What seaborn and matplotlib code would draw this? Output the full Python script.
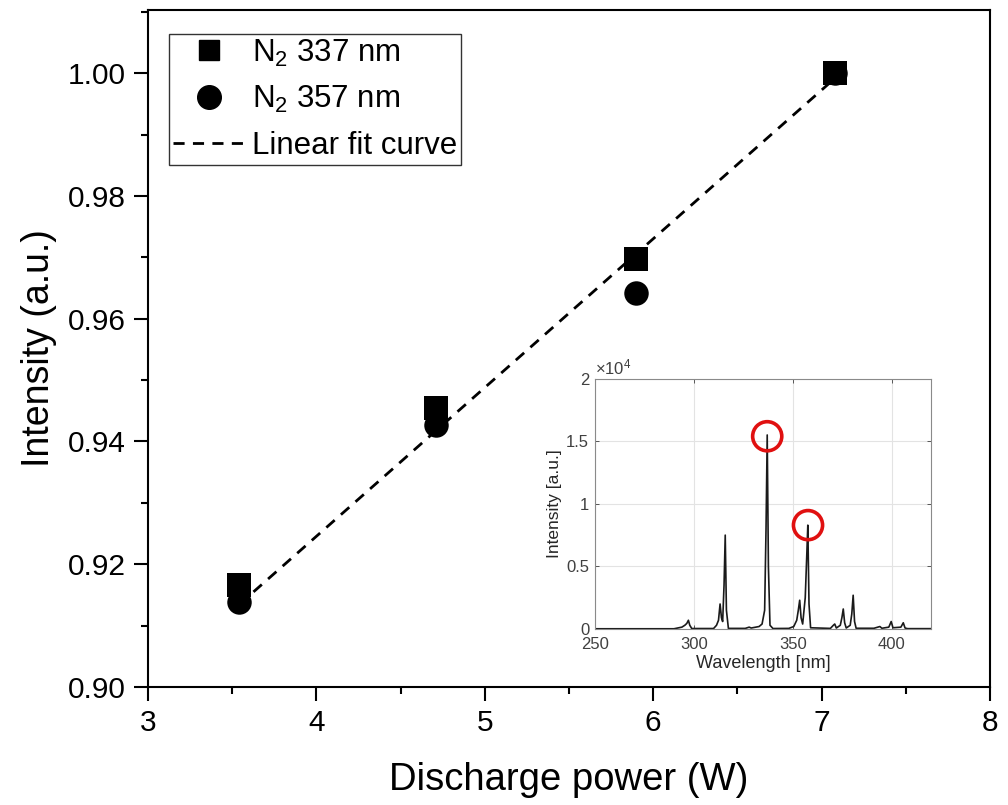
import numpy as np
import pandas as pd
import matplotlib
matplotlib.use("Agg")
import matplotlib.pyplot as plt
import seaborn as sns
from matplotlib.lines import Line2D
from matplotlib.ticker import MultipleLocator, FuncFormatter


# main panel: normalised N2 emission vs discharge power
power = [3.54, 4.71, 5.90, 7.08]
n2_337 = [0.9166, 0.9454, 0.9697, 1.0000]
n2_357 = [0.9138, 0.9427, 0.9642, 1.0000]
fit_power = [3.54, 7.08]
fit_intensity = [0.9134, 0.9992]

# inset: emission spectrum
wavelength = [250, 290, 294, 295.5, 296.5, 297.3, 298, 299, 310, 311.5, 312.5, 313.3, 314,
              314.6, 315.3, 315.9, 316.5, 317.5, 326, 328, 329, 333, 334.5, 335.8, 336.5,
              337.1, 337.7, 338.5, 340, 348, 350.5, 352, 352.8, 353.5, 354.2, 355, 356.3,
              357.1, 357.6, 358.2, 359, 369, 370.5, 371.2, 372, 374, 374.8, 375.5, 376.2,
              377, 379, 379.8, 380.5, 381.2, 382, 391, 394, 395, 398.5, 399.7, 400.6,
              404.6, 405.8, 406.7, 408, 420]
counts = [20, 20, 150, 300, 450, 700, 300, 40, 40, 300, 700, 2000, 900,
          600, 3500, 7500, 1500, 50, 50, 150, 80, 200, 400, 1500, 8000,
          15500, 5000, 300, 40, 50, 200, 700, 1500, 2300, 900, 400, 2500,
          6000, 8300, 2000, 100, 50, 300, 400, 80, 300, 900, 1600, 500,
          80, 300, 1200, 2700, 600, 60, 60, 200, 60, 150, 600, 100,
          150, 500, 80, 30, 30]
marked_wl = [337.1, 357.7]
marked_counts = [15400, 8300]

sns.set_theme(style="ticks")
plt.rcParams["font.family"] = ["Liberation Sans", "DejaVu Sans"]
plt.rcParams["mathtext.default"] = "regular"
plt.rcParams["text.color"] = "black"
plt.rcParams["axes.labelcolor"] = "black"

df = pd.DataFrame({"power": power, "n2_337": n2_337, "n2_357": n2_357})
fit_df = pd.DataFrame({"power": fit_power, "intensity": fit_intensity})
spec = pd.DataFrame({"wavelength": wavelength, "counts": counts})

fig = plt.figure(figsize=(10.08, 8.05), dpi=100)
ax = fig.add_axes([0.1468, 0.1466, 0.8354, 0.841])

sns.lineplot(data=fit_df, x="power", y="intensity", ax=ax, color="black",
             linestyle=(0, (4, 3)), linewidth=2, zorder=2)
sns.scatterplot(data=df, x="power", y="n2_337", ax=ax, marker="s", s=300,
                color="black", edgecolor="black", linewidth=0, zorder=3)
sns.scatterplot(data=df, x="power", y="n2_357", ax=ax, marker="o", s=310,
                color="black", edgecolor="black", linewidth=0, zorder=4)

ax.set_xlim(3, 8)
ax.set_ylim(0.90, 1.0103)
ax.set_yticks(np.arange(0.90, 1.001, 0.02))
ax.yaxis.set_major_formatter(FuncFormatter(lambda v, p: f"{v:.2f}"))
ax.xaxis.set_minor_locator(MultipleLocator(0.5))
ax.yaxis.set_minor_locator(MultipleLocator(0.01))
ax.tick_params(which="major", direction="out", length=10, width=1.5,
               labelsize=21.5, top=False, right=False, pad=6, colors="black")
ax.tick_params(which="minor", direction="out", length=5, width=1.5,
               top=False, right=False, colors="black")
for sp in ax.spines.values():
    sp.set_visible(True)
    sp.set_linewidth(1.5)
    sp.set_color("black")
ax.set_xlabel("Discharge power (W)", fontsize=27.5, labelpad=18)
ax.set_ylabel("Intensity (a.u.)", fontsize=27, labelpad=8)

handles = [
    Line2D([], [], marker="s", color="black", linestyle="none", markersize=15),
    Line2D([], [], marker="o", color="black", linestyle="none", markersize=17),
    Line2D([], [], color="black", linestyle=(0, (4, 3)), linewidth=2),
]
labels = ["N$_2$ 337 nm", "N$_2$ 357 nm", "Linear fit curve"]
leg = ax.legend(handles, labels, loc="upper left", bbox_to_anchor=(0.025, 0.965),
                borderaxespad=0, fontsize=22.5, frameon=True, fancybox=False,
                edgecolor="black", handlelength=2.3, handletextpad=0.25,
                labelspacing=0.5, borderpad=0.12)
leg.get_frame().set_linewidth(1.0)

# inset spectrum
ax_in = fig.add_axes([0.590, 0.2186, 0.334, 0.311])
sns.lineplot(data=spec, x="wavelength", y="counts", ax=ax_in, color="#1a1a1a",
             linewidth=1.2)
sns.scatterplot(x=marked_wl, y=marked_counts, ax=ax_in, marker="o", s=440,
                facecolor="none", edgecolor="#e01010", linewidth=2.6, zorder=5)
ax_in.set_xlim(250, 420)
ax_in.set_ylim(0, 20000)
ax_in.set_xticks([250, 300, 350, 400])
ax_in.set_yticks([0, 5000, 10000, 15000, 20000])
ax_in.yaxis.set_major_formatter(FuncFormatter(lambda v, p: f"{v / 1e4:g}"))
ax_in.grid(True, color="#e3e3e3", linewidth=0.8)
ax_in.tick_params(direction="in", length=3, width=0.6, labelsize=12,
                  colors="#404040", top=True, right=True)
ax_in.tick_params(axis="x", pad=6)
ax_in.tick_params(axis="y", pad=4)
for sp in ax_in.spines.values():
    sp.set_visible(True)
    sp.set_linewidth(0.8)
    sp.set_color("#8a8a8a")
ax_in.set_xlabel("Wavelength [nm]", fontsize=13, color="#262626", labelpad=2)
ax_in.set_ylabel("Intensity [a.u.]", fontsize=12.5, color="#262626", labelpad=3)
ax_in.text(0.0, 1.005, r"$\times10^{4}$", transform=ax_in.transAxes,
           ha="left", va="bottom", fontsize=12, color="#404040")

fig.savefig("out.png", dpi=100)
